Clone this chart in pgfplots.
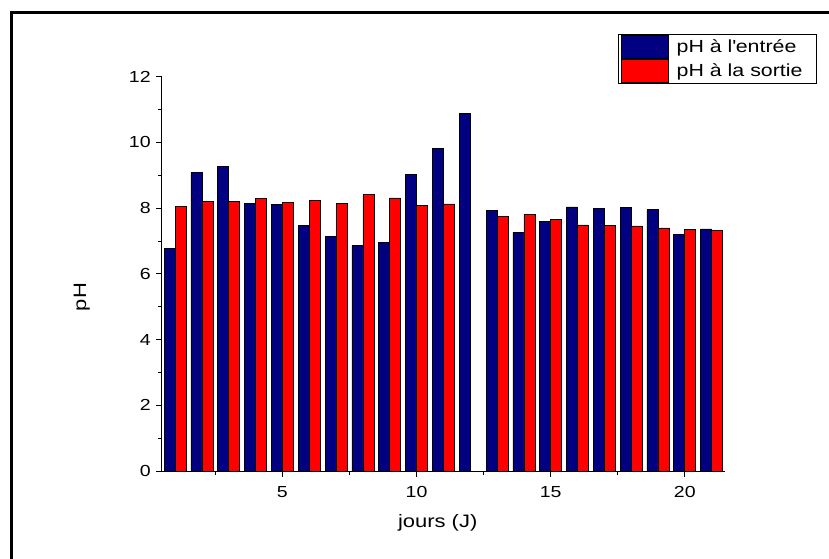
\documentclass[border=0pt]{standalone}
\usepackage{fontspec}
\setmainfont{Liberation Sans}[FakeStretch=1.22]
\usepackage{pgfplots}
\pgfplotsset{compat=1.18}
\definecolor{navyb}{RGB}{0,0,128}
\definecolor{redb}{RGB}{255,0,0}
\begin{document}
\begin{tikzpicture}
\useasboundingbox (-161.7pt,-87pt) rectangle (667.3pt,471pt);
\draw[line width=2.7pt] (-150.4pt,-90pt) -- (-150.4pt,458.3pt) -- (670pt,458.3pt);
\begin{axis}[
  at={(0pt,0pt)}, anchor=south west,
  scale only axis,
  width=563.3pt, height=394.3pt,
  xmin=0.5, xmax=21.5, ymin=0, ymax=12,
  axis x line*=bottom, axis y line*=left,
  axis line style={line width=0.9pt},
  ybar=0pt, bar width=11pt,
  xtick={5,10,15,20},
  minor xtick={2.5,7.5,12.5,17.5},
  ytick={0,2,4,6,8,10,12},
  minor ytick={1,3,5,7,9,11},
  tick align=outside,
  major tick length=5.5pt, minor tick length=3.5pt,
  tick style={line width=0.8pt, black},
  /pgf/number format/assume math mode=true,
  ticklabel style={font=\fontsize{16}{18}\selectfont},
  xticklabel style={yshift=-6pt},
  yticklabel style={xshift=-2pt},
  xlabel={jours (J)},
  ylabel={pH},
  label style={font=\fontsize{18}{20}\selectfont},
  xlabel style={at={(axis description cs:0.49,-0.132)}, anchor=center},
  ylabel style={at={(axis description cs:-0.142,0.441)}, anchor=center, rotate=0},
  legend style={at={(1.163,1.108)}, anchor=north east,
    draw=black, line width=0.6pt, inner xsep=3pt, inner ysep=1pt,
    row sep=1pt,
    font=\fontsize{17.5}{20}\selectfont,
    nodes={inner sep=1pt}},
  legend cell align=left,
  legend image code/.code={\draw[#1,draw=black,line width=0.6pt] (0pt,-11.2pt) rectangle (47pt,11.2pt); \path (51pt,0pt);},
]
\addplot[fill=navyb, draw=black, line width=0.6pt] coordinates {
(1,6.78) (2,9.08) (3,9.26) (4,8.14) (5,8.12) (6,7.48) (7,7.15) (8,6.86) (9,6.95) (10,9.03) (11,9.81) (12,10.88) (13,7.94) (14,7.26) (15,7.60) (16,8.04) (17,8.00) (18,8.02) (19,7.95) (20,7.19) (21,7.37)};
\addplot[fill=redb, draw=black, line width=0.6pt] coordinates {
(1,8.05) (2,8.21) (3,8.21) (4,8.29) (5,8.18) (6,8.24) (7,8.15) (8,8.41) (9,8.31) (10,8.09) (11,8.13) (13,7.76) (14,7.82) (15,7.65) (16,7.49) (17,7.48) (18,7.46) (19,7.40) (20,7.35) (21,7.33)};
\legend{\kern3pt pH à l\textquotesingle entrée\kern10pt, \kern3pt pH à la sortie\kern10pt}
\end{axis}
\end{tikzpicture}
\end{document}
